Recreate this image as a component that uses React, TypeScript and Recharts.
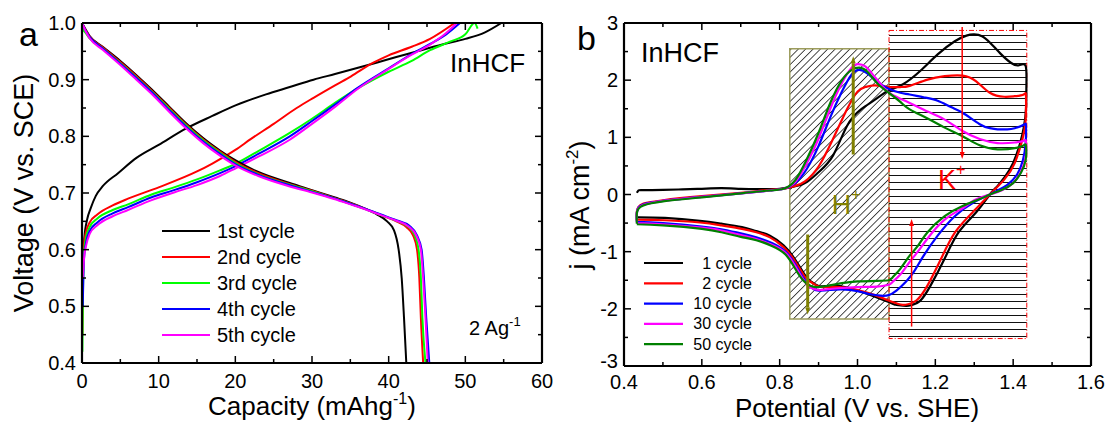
import React from 'react';
import { LineChart, Line, XAxis, YAxis, ReferenceArea, ReferenceLine, ReferenceDot } from 'recharts';

type Pt = [number, number];

const FONT = 'Arial, "Liberation Sans", sans-serif';

// ---- panel a: galvanostatic charge / discharge (capacity mAh/g, voltage V vs SCE)
const cycleNamesA = ['1st cycle', '2nd cycle', '3rd cycle', '4th cycle', '5th cycle'];
const colorsA = ['#000000', '#ff0000', '#00ff00', '#0000ff', '#ff00ff'];

const charge1: Pt[] = [[0.05, 0.55], [0.3, 0.62], [0.7, 0.655], [1.1, 0.672], [1.8, 0.695], [2.7, 0.712], [4.7, 0.735], [7.1, 0.762], [10, 0.785], [13.6, 0.814], [17, 0.836], [20.1, 0.855], [24, 0.874], [27.1, 0.887], [30.2, 0.9], [33, 0.91], [36, 0.921], [38.4, 0.93], [41, 0.94], [43.7, 0.95], [47, 0.962], [50, 0.972], [52.5, 0.983], [54.7, 1.0]];
const charge2: Pt[] = [[0.05, 0.45], [0.2, 0.6], [0.5, 0.63], [1, 0.648], [2, 0.662], [4, 0.678], [6, 0.69], [10, 0.71], [15, 0.738], [17, 0.752], [20, 0.776], [22, 0.795], [25, 0.822], [28, 0.85], [30.2, 0.868], [33, 0.89], [35.1, 0.906], [38, 0.93], [40, 0.943], [43, 0.958], [45.4, 0.972], [48.6, 1.0]];
const charge3: Pt[] = [[0.05, 0.42], [0.2, 0.58], [0.5, 0.62], [1, 0.64], [2, 0.655], [4, 0.67], [6, 0.68], [9, 0.697], [12, 0.71], [15, 0.724], [18, 0.74], [20.1, 0.752], [23, 0.774], [27.1, 0.806], [30, 0.831], [33, 0.859], [36, 0.885], [40, 0.914], [43, 0.933], [45.4, 0.952], [48, 0.967], [50, 0.98], [51.2, 1.0], [51.6, 0.99]];
const charge4: Pt[] = [[0.1, 0.5], [0.25, 0.58], [0.5, 0.61], [1, 0.633], [2, 0.648], [4, 0.664], [6, 0.675], [9, 0.692], [12, 0.705], [15, 0.719], [18, 0.735], [20.1, 0.748], [23, 0.769], [27.1, 0.8], [30, 0.827], [33, 0.856], [36, 0.886], [40, 0.92], [43, 0.945], [45.4, 0.963], [47.5, 0.98], [49.3, 1.0]];
const charge5: Pt[] = [[0.1, 0.55], [0.3, 0.59], [0.5, 0.605], [1, 0.628], [2, 0.643], [4, 0.659], [6, 0.67], [9, 0.687], [12, 0.701], [15, 0.714], [18, 0.73], [20.1, 0.744], [23, 0.764], [27.1, 0.794], [30, 0.822], [33, 0.852], [36, 0.884], [40, 0.919], [43, 0.944], [45.4, 0.962], [47.3, 0.98], [48.9, 1.0]];

const discharge1: Pt[] = [[0, 1.0], [0.5, 0.988], [1, 0.977], [2.7, 0.958], [5, 0.933], [7.1, 0.908], [9, 0.884], [11.4, 0.852], [13.5, 0.824], [15.8, 0.797], [18, 0.775], [20.1, 0.757], [23, 0.737], [27, 0.718], [30, 0.705], [33, 0.692], [35, 0.683], [37, 0.672], [38.5, 0.662], [39.8, 0.65], [40.7, 0.634], [41.3, 0.6], [41.7, 0.55], [42.0, 0.48], [42.3, 0.4]];
const discharge2: Pt[] = [[0, 1.0], [0.5, 0.987], [1, 0.976], [2.7, 0.957], [5, 0.931], [7.1, 0.906], [9, 0.882], [11.4, 0.85], [13.5, 0.822], [15.8, 0.795], [18, 0.773], [20.1, 0.754], [23, 0.735], [27, 0.716], [30, 0.704], [33, 0.691], [35, 0.682], [37, 0.672], [39, 0.661], [41, 0.65], [42.3, 0.64], [43.2, 0.625], [43.7, 0.6], [44.0, 0.55], [44.2, 0.48], [44.5, 0.4]];
const discharge3: Pt[] = [[0, 0.99], [0.5, 0.982], [1, 0.973], [2.7, 0.955], [5, 0.929], [7.1, 0.904], [9, 0.88], [11.4, 0.848], [13.5, 0.82], [15.8, 0.793], [18, 0.771], [20.1, 0.752], [23, 0.733], [27, 0.715], [30, 0.703], [33, 0.69], [35, 0.681], [37, 0.671], [39, 0.661], [41, 0.651], [42.5, 0.641], [43.4, 0.625], [43.9, 0.6], [44.2, 0.55], [44.4, 0.48], [44.8, 0.4]];
const discharge4: Pt[] = [[0, 1.0], [0.5, 0.986], [1, 0.975], [2.7, 0.955], [5, 0.928], [7.1, 0.903], [9, 0.879], [11.4, 0.846], [13.5, 0.818], [15.8, 0.791], [18, 0.769], [20.1, 0.75], [23, 0.732], [27, 0.714], [30, 0.702], [33, 0.69], [35, 0.681], [37, 0.672], [39, 0.662], [41, 0.652], [42.7, 0.642], [43.7, 0.625], [44.3, 0.6], [44.6, 0.55], [44.9, 0.48], [45.3, 0.4]];
const discharge5: Pt[] = [[0, 1.0], [0.5, 0.985], [1, 0.973], [2.7, 0.953], [5, 0.926], [7.1, 0.9], [9, 0.876], [11.4, 0.843], [13.5, 0.815], [15.8, 0.788], [18, 0.766], [20.1, 0.748], [23, 0.73], [27, 0.712], [30, 0.701], [33, 0.689], [35, 0.68], [37, 0.671], [39, 0.661], [41, 0.651], [42.6, 0.641], [43.6, 0.625], [44.2, 0.6], [44.5, 0.55], [44.8, 0.48], [45.1, 0.4]];

const chargesA = [charge1, charge2, charge3, charge4, charge5];
const dischargesA = [discharge1, discharge2, discharge3, discharge4, discharge5];

const ticksAX = [0, 5, 10, 15, 20, 25, 30, 35, 40, 45, 50, 55, 60];
const ticksAY = [0.4, 0.45, 0.5, 0.55, 0.6, 0.65, 0.7, 0.75, 0.8, 0.85, 0.9, 0.95, 1.0];

// ---- panel b: cyclic voltammetry (potential V vs SHE, j mA/cm2)
const cycleNamesB = ['1 cycle', '2 cycle', '10 cycle', '30 cycle', '50 cycle'];
const colorsB = ['#000000', '#ff0000', '#0000ff', '#ff00ff', '#008000'];

const cv1: Pt[] = [[0.433, 0.03], [0.437, 0.07], [0.45, 0.075], [0.5, 0.08], [0.55, 0.09], [0.6, 0.1], [0.65, 0.11], [0.7, 0.1], [0.75, 0.095], [0.8, 0.1], [0.83, 0.13], [0.865, 0.2], [0.9, 0.39], [0.937, 0.68], [0.973, 1.2], [1.009, 1.49], [1.045, 1.66], [1.08, 1.82], [1.117, 1.93], [1.161, 2.16], [1.206, 2.45], [1.25, 2.68], [1.28, 2.78], [1.3, 2.8], [1.32, 2.77], [1.34, 2.66], [1.368, 2.46], [1.395, 2.3], [1.415, 2.26], [1.432, 2.25], [1.434, 1.9], [1.433, 1.5], [1.428, 1.2], [1.418, 0.9], [1.4, 0.55], [1.38, 0.32], [1.36, 0.15], [1.34, 0.0], [1.305, -0.31], [1.26, -0.66], [1.224, -1.12], [1.188, -1.59], [1.161, -1.86], [1.14, -1.93], [1.125, -1.95], [1.1, -1.93], [1.09, -1.91], [1.045, -1.79], [1.0, -1.68], [0.955, -1.6], [0.92, -1.6], [0.9, -1.6], [0.88, -1.52], [0.865, -1.41], [0.838, -1.12], [0.81, -0.89], [0.775, -0.72], [0.74, -0.64], [0.703, -0.57], [0.65, -0.51], [0.595, -0.46], [0.505, -0.41], [0.433, -0.4]];
const cv2: Pt[] = [[0.433, -0.45], [0.433, -0.3], [0.437, -0.22], [0.45, -0.16], [0.5, -0.1], [0.6, -0.03], [0.7, 0.03], [0.775, 0.08], [0.81, 0.1], [0.84, 0.15], [0.865, 0.23], [0.9, 0.49], [0.937, 0.97], [0.973, 1.49], [1.0, 1.8], [1.02, 1.88], [1.045, 1.91], [1.08, 1.88], [1.11, 1.88], [1.134, 1.9], [1.18, 2.01], [1.224, 2.07], [1.27, 2.08], [1.305, 1.98], [1.34, 1.78], [1.377, 1.71], [1.404, 1.72], [1.427, 1.75], [1.433, 1.72], [1.432, 1.3], [1.424, 0.97], [1.404, 0.55], [1.377, 0.26], [1.34, 0.0], [1.296, -0.31], [1.251, -0.66], [1.215, -1.12], [1.18, -1.59], [1.152, -1.85], [1.13, -1.92], [1.116, -1.93], [1.09, -1.88], [1.045, -1.76], [1.0, -1.67], [0.955, -1.62], [0.92, -1.62], [0.9, -1.61], [0.88, -1.53], [0.865, -1.44], [0.838, -1.15], [0.81, -0.92], [0.775, -0.75], [0.74, -0.66], [0.703, -0.6], [0.65, -0.54], [0.595, -0.49], [0.505, -0.45], [0.433, -0.44]];
const cv10: Pt[] = [[0.433, -0.47], [0.433, -0.32], [0.437, -0.23], [0.45, -0.17], [0.5, -0.11], [0.6, -0.04], [0.7, 0.02], [0.775, 0.07], [0.81, 0.1], [0.84, 0.2], [0.87, 0.45], [0.9, 0.85], [0.93, 1.35], [0.96, 1.8], [0.985, 2.1], [1.005, 2.18], [1.025, 2.12], [1.05, 1.98], [1.08, 1.85], [1.11, 1.78], [1.134, 1.75], [1.17, 1.7], [1.206, 1.64], [1.24, 1.53], [1.27, 1.43], [1.314, 1.23], [1.34, 1.16], [1.36, 1.14], [1.385, 1.14], [1.404, 1.16], [1.427, 1.22], [1.433, 1.2], [1.432, 0.9], [1.425, 0.6], [1.41, 0.35], [1.385, 0.17], [1.36, 0.07], [1.34, 0.0], [1.296, -0.15], [1.25, -0.38], [1.206, -0.72], [1.17, -1.07], [1.145, -1.35], [1.125, -1.52], [1.1, -1.68], [1.08, -1.76], [1.06, -1.77], [1.03, -1.74], [1.0, -1.69], [0.96, -1.66], [0.93, -1.67], [0.9, -1.68], [0.88, -1.62], [0.86, -1.45], [0.84, -1.22], [0.815, -1.0], [0.78, -0.85], [0.74, -0.75], [0.7, -0.68], [0.65, -0.61], [0.6, -0.56], [0.5, -0.5], [0.433, -0.48]];
const cv30: Pt[] = [[0.433, -0.49], [0.433, -0.32], [0.437, -0.24], [0.45, -0.18], [0.5, -0.11], [0.6, -0.04], [0.7, 0.02], [0.775, 0.07], [0.81, 0.1], [0.84, 0.22], [0.87, 0.55], [0.9, 0.98], [0.93, 1.5], [0.96, 1.95], [0.985, 2.22], [1.0, 2.28], [1.02, 2.24], [1.045, 2.05], [1.07, 1.85], [1.09, 1.74], [1.134, 1.6], [1.18, 1.45], [1.224, 1.31], [1.27, 1.11], [1.314, 0.97], [1.36, 0.9], [1.404, 0.91], [1.427, 0.94], [1.433, 0.92], [1.432, 0.65], [1.42, 0.4], [1.4, 0.2], [1.37, 0.07], [1.34, 0.0], [1.3, -0.1], [1.27, -0.24], [1.224, -0.44], [1.18, -0.77], [1.155, -1.0], [1.134, -1.18], [1.11, -1.4], [1.09, -1.53], [1.08, -1.58], [1.05, -1.61], [1.0, -1.62], [0.95, -1.64], [0.92, -1.66], [0.9, -1.67], [0.88, -1.63], [0.86, -1.48], [0.84, -1.25], [0.815, -1.02], [0.78, -0.88], [0.74, -0.78], [0.7, -0.71], [0.65, -0.63], [0.6, -0.58], [0.5, -0.52], [0.433, -0.5]];
const cv50: Pt[] = [[0.433, -0.51], [0.433, -0.33], [0.437, -0.25], [0.45, -0.19], [0.5, -0.12], [0.6, -0.05], [0.7, 0.02], [0.775, 0.07], [0.81, 0.1], [0.84, 0.25], [0.87, 0.62], [0.9, 1.08], [0.93, 1.6], [0.96, 2.0], [0.985, 2.18], [1.005, 2.22], [1.025, 2.15], [1.05, 1.95], [1.08, 1.78], [1.11, 1.62], [1.134, 1.49], [1.18, 1.33], [1.224, 1.17], [1.27, 1.02], [1.314, 0.86], [1.36, 0.79], [1.404, 0.81], [1.427, 0.86], [1.433, 0.85], [1.432, 0.6], [1.42, 0.38], [1.4, 0.2], [1.37, 0.08], [1.34, 0.0], [1.314, -0.08], [1.27, -0.2], [1.224, -0.38], [1.18, -0.66], [1.155, -0.9], [1.134, -1.07], [1.11, -1.3], [1.09, -1.45], [1.08, -1.5], [1.05, -1.51], [1.0, -1.52], [0.96, -1.55], [0.92, -1.6], [0.9, -1.62], [0.88, -1.6], [0.86, -1.5], [0.84, -1.3], [0.815, -1.05], [0.78, -0.9], [0.74, -0.8], [0.7, -0.74], [0.65, -0.66], [0.6, -0.6], [0.5, -0.54], [0.433, -0.52]];

const cvCurves = [cv1, cv2, cv10, cv30, cv50];

const ticksBX = [0.4, 0.5, 0.6, 0.7, 0.8, 0.9, 1.0, 1.1, 1.2, 1.3, 1.4, 1.5, 1.6];
const ticksBY = [-3, -2.5, -2, -1.5, -1, -0.5, 0, 0.5, 1, 1.5, 2, 2.5, 3];

// shaded regions (x1, x2, y1, y2)
const protonRegion = [0.826, 1.081, -2.18, 2.55];
const potassiumRegion = [1.081, 1.435, -2.52, 2.87];

const toObj = (a: Pt[]) => a.map(([x, y]) => ({ x, y }));

type Side = 'bottom' | 'top' | 'left' | 'right';

// lift: value whose left label is nudged up so it clears the x labels at the corner
function makeTick(side: Side, isMajor: (v: number) => boolean, fmt: ((v: number) => string) | null, gap: number, lift?: number) {
  return (props: any) => {
    const x = Number(props.x);
    const y = Number(props.y);
    const v = Number(props.payload.value);
    const major = isMajor(v);
    const len = major ? 7 : 4;
    let l;
    let label = null;
    if (side === 'bottom') {
      l = <line x1={x} x2={x} y1={y} y2={y - len} />;
      if (major && fmt) label = <text x={x} y={y + gap} textAnchor="middle" dominantBaseline="central">{fmt(v)}</text>;
    } else if (side === 'top') {
      l = <line x1={x} x2={x} y1={y} y2={y + len} />;
    } else if (side === 'left') {
      l = <line x1={x} x2={x + len} y1={y} y2={y} />;
      const dy = lift !== undefined && v === lift ? -5 : 0;
      if (major && fmt) label = <text x={x - gap} y={y + dy} textAnchor="end" dominantBaseline="central">{fmt(v)}</text>;
    } else {
      l = <line x1={x} x2={x - len} y1={y} y2={y} />;
    }
    return (
      <g stroke="#000" strokeWidth={1.5}>
        {l}
        {label && <g stroke="none" fill="#000" fontSize={20} fontFamily={FONT}>{label}</g>}
      </g>
    );
  };
}

const arrowShape = (color: string, w: number, head: number) => (p: any) => {
  const { x1, y1, x2, y2 } = p;
  const dx = x2 - x1;
  const dy = y2 - y1;
  const L = Math.hypot(dx, dy) || 1;
  const ux = dx / L;
  const uy = dy / L;
  const bx = x2 - ux * head * 2;
  const by = y2 - uy * head * 2;
  const px = -uy * head * 0.7;
  const py = ux * head * 0.7;
  return (
    <g>
      <line x1={x1} y1={y1} x2={bx} y2={by} stroke={color} strokeWidth={w} />
      <polygon points={`${x2},${y2} ${bx + px},${by + py} ${bx - px},${by - py}`} fill={color} />
    </g>
  );
};

const superText = (main: string, sup: string, color: string, size: number) => (p: any) => (
  <text x={p.cx} y={p.cy} fill={color} fontSize={size} fontFamily={FONT} dominantBaseline="central">
    {main}
    <tspan fontSize={size * 0.6} dy={-size * 0.4}>{sup}</tspan>
  </text>
);

const axisLineStyle = { stroke: '#000', strokeWidth: 2.2 };

// axes are 1px boxes (a 0 size axis is not drawn), margins are 1 less to compensate
const PanelA = () => (
  <LineChart width={560} height={423} margin={{ top: 22, right: 17, bottom: 59, left: 81 }}>
    <XAxis xAxisId="b" dataKey="x" type="number" domain={[0, 60]} ticks={ticksAX} interval={0} allowDataOverflow
      height={1} tickSize={0} tickMargin={0} tickLine={false} axisLine={axisLineStyle}
      tick={makeTick('bottom', (v) => v % 10 === 0, (v) => String(v), 18)} />
    <XAxis xAxisId="t" orientation="top" dataKey="x" type="number" domain={[0, 60]} ticks={ticksAX} interval={0} allowDataOverflow
      height={1} tickSize={0} tickMargin={0} tickLine={false} axisLine={axisLineStyle}
      tick={makeTick('top', (v) => v % 10 === 0, null, 0)} />
    <YAxis yAxisId="l" type="number" domain={[0.4, 1.0]} ticks={ticksAY} interval={0} allowDataOverflow
      width={1} tickSize={0} tickMargin={0} tickLine={false} axisLine={axisLineStyle}
      tick={makeTick('left', (v) => Math.round(v * 100) % 10 === 0, (v) => v.toFixed(1), 6)} />
    <YAxis yAxisId="r" orientation="right" type="number" domain={[0.4, 1.0]} ticks={ticksAY} interval={0} allowDataOverflow
      width={1} tickSize={0} tickMargin={0} tickLine={false} axisLine={axisLineStyle}
      tick={makeTick('right', (v) => Math.round(v * 100) % 10 === 0, null, 0)} />
    {chargesA.map((c, i) => (
      <Line key={'c' + i} xAxisId="b" yAxisId="l" data={toObj(c)} dataKey="y" type="monotone" stroke={colorsA[i]}
        strokeWidth={2} dot={false} activeDot={false} isAnimationActive={false} />
    ))}
    {dischargesA.map((c, i) => (
      <Line key={'d' + i} xAxisId="b" yAxisId="l" data={toObj(c)} dataKey="y" type="monotone" stroke={colorsA[i]}
        strokeWidth={2} dot={false} activeDot={false} isAnimationActive={false} />
    ))}
  </LineChart>
);

const PanelB = () => (
  <LineChart width={550} height={423} margin={{ top: 22, right: 18, bottom: 56, left: 63 }}>
    <defs>
      <pattern id="hatchDiag" patternUnits="userSpaceOnUse" width="5.2" height="10" patternTransform="rotate(45)">
        <line x1="0" y1="0" x2="0" y2="10" stroke="#000" strokeWidth="1.4" />
      </pattern>
      <pattern id="hatchHoriz" patternUnits="userSpaceOnUse" width="10" height="7">
        <line x1="0" y1="0.5" x2="10" y2="0.5" stroke="#111" strokeWidth="1" />
      </pattern>
    </defs>
    <XAxis xAxisId="b" dataKey="x" type="number" domain={[0.4, 1.6]} ticks={ticksBX} interval={0} allowDataOverflow
      height={1} tickSize={0} tickMargin={0} tickLine={false} axisLine={axisLineStyle}
      tick={makeTick('bottom', (v) => Math.round(v * 10) % 2 === 0, (v) => v.toFixed(1), 16)} />
    <XAxis xAxisId="t" orientation="top" dataKey="x" type="number" domain={[0.4, 1.6]} ticks={ticksBX} interval={0} allowDataOverflow
      height={1} tickSize={0} tickMargin={0} tickLine={false} axisLine={axisLineStyle}
      tick={makeTick('top', (v) => Math.round(v * 10) % 2 === 0, null, 0)} />
    <YAxis yAxisId="l" type="number" domain={[-3, 3]} ticks={ticksBY} interval={0} allowDataOverflow
      width={1} tickSize={0} tickMargin={0} tickLine={false} axisLine={axisLineStyle}
      tick={makeTick('left', (v) => Number.isInteger(v), (v) => String(v), 6, -3)} />
    <YAxis yAxisId="r" orientation="right" type="number" domain={[-3, 3]} ticks={ticksBY} interval={0} allowDataOverflow
      width={1} tickSize={0} tickMargin={0} tickLine={false} axisLine={axisLineStyle}
      tick={makeTick('right', (v) => Number.isInteger(v), null, 0)} />
    <ReferenceArea xAxisId="b" yAxisId="l" x1={protonRegion[0]} x2={protonRegion[1]} y1={protonRegion[2]} y2={protonRegion[3]}
      fill="url(#hatchDiag)" fillOpacity={1} stroke="#9c9c5c" strokeWidth={1.5} />
    <ReferenceArea xAxisId="b" yAxisId="l" x1={potassiumRegion[0]} x2={potassiumRegion[1]} y1={potassiumRegion[2]} y2={potassiumRegion[3]}
      fill="url(#hatchHoriz)" fillOpacity={1} stroke="#ff0000" strokeWidth={1} strokeDasharray="5 2 1 2" />
    {cvCurves.map((c, i) => (
      <Line key={'cv' + i} xAxisId="b" yAxisId="l" data={toObj(c)} dataKey="y" type="natural" stroke={colorsB[i]}
        strokeWidth={2.2} dot={false} activeDot={false} isAnimationActive={false} />
    ))}
    <ReferenceLine xAxisId="b" yAxisId="l" segment={[{ x: 0.989, y: 0.7 }, { x: 0.989, y: 2.42 }]} shape={arrowShape('#808000', 3, 3.5)} />
    <ReferenceLine xAxisId="b" yAxisId="l" segment={[{ x: 0.872, y: -0.7 }, { x: 0.872, y: -2.1 }]} shape={arrowShape('#808000', 3, 3.5)} />
    <ReferenceLine xAxisId="b" yAxisId="l" segment={[{ x: 1.269, y: 2.93 }, { x: 1.269, y: 0.62 }]} shape={arrowShape('#ff0000', 1.5, 3.5)} />
    <ReferenceLine xAxisId="b" yAxisId="l" segment={[{ x: 1.139, y: -2.31 }, { x: 1.139, y: -0.43 }]} shape={arrowShape('#ff0000', 1.5, 3.5)} />
    <ReferenceDot xAxisId="b" yAxisId="l" x={0.934} y={-0.18} r={0} shape={superText('H', '+', '#808000', 27)} />
    <ReferenceDot xAxisId="b" yAxisId="l" x={1.207} y={0.25} r={0} shape={superText('K', '+', '#ff0000', 27)} />
  </LineChart>
);

const Overlay = () => (
  <svg width={1110} height={423} style={{ position: 'absolute', left: 0, top: 0, pointerEvents: 'none' }} fontFamily={FONT}>
    <text x={19} y={46} fontSize={34}>a</text>
    <text x={577} y={50} fontSize={34}>b</text>
    <text transform="translate(24,193) rotate(-90)" textAnchor="middle" dominantBaseline="central" fontSize={27}>Voltage (V vs. SCE)</text>
    <text x={312} y={415} textAnchor="middle" fontSize={26}>
      Capacity (mAhg<tspan fontSize={16} dy={-11}>-1</tspan><tspan dy={11}>)</tspan>
    </text>
    <text transform="translate(589,205) rotate(-90)" textAnchor="middle" fontSize={27}>
      j (mA cm<tspan fontSize={17} dy={-11}>-2</tspan><tspan dy={11}>)</tspan>
    </text>
    <text x={857} y={417} textAnchor="middle" fontSize={26}>Potential (V vs. SHE)</text>
    <text x={450} y={72} fontSize={26}>InHCF</text>
    <text x={641} y={62} fontSize={27}>InHCF</text>
    <text x={469} y={335} fontSize={20}>
      2 Ag<tspan fontSize={13} dy={-9}>-1</tspan>
    </text>
    {cycleNamesA.map((n, i) => (
      <g key={n}>
        <line x1={162} x2={210} y1={231 + i * 26} y2={231 + i * 26} stroke={colorsA[i]} strokeWidth={2} />
        <text x={217} y={231 + i * 26} dominantBaseline="central" fontSize={20}>{n}</text>
      </g>
    ))}
    {cycleNamesB.map((n, i) => (
      <g key={n}>
        <line x1={644} x2={683} y1={263 + i * 20.3} y2={263 + i * 20.3} stroke={colorsB[i]} strokeWidth={2.2} />
        <text x={752} y={263 + i * 20.3} textAnchor="end" dominantBaseline="central" fontSize={16}>{n}</text>
      </g>
    ))}
  </svg>
);

export default function App() {
  return (
    <div style={{ position: 'absolute', left: 0, top: 0, width: 1110, height: 423, background: '#fff', fontFamily: FONT }}>
      <div style={{ position: 'absolute', left: 0, top: 0 }}>
        <PanelA />
      </div>
      <div style={{ position: 'absolute', left: 560, top: 0 }}>
        <PanelB />
      </div>
      <Overlay />
    </div>
  );
}
